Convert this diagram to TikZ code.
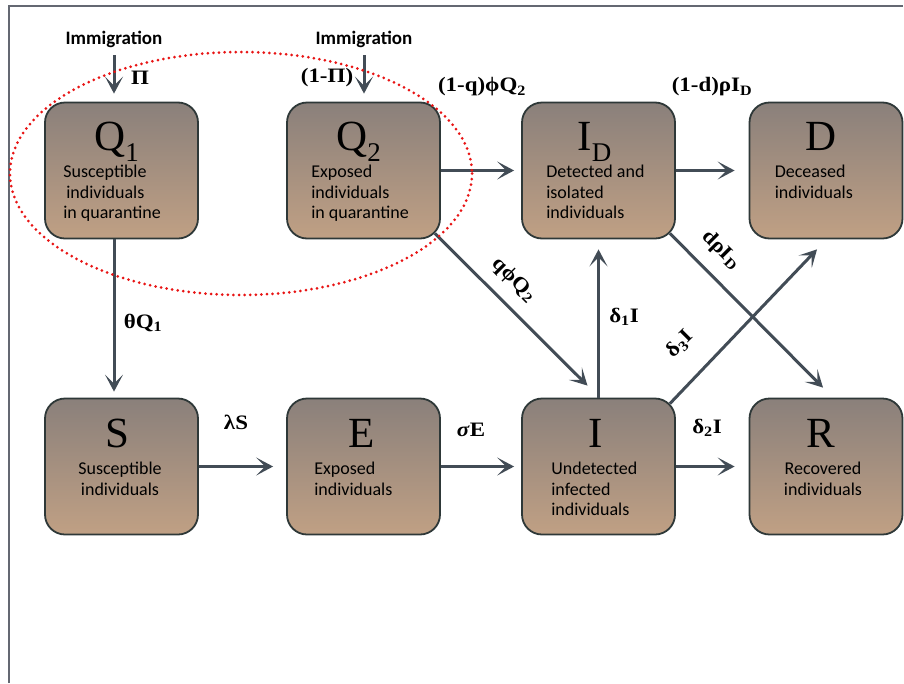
\documentclass[tikz,border=0pt]{standalone}
\usepackage{fontspec}
\setmainfont{Liberation Serif}
\newfontfamily\boxsans{Carlito}
\newfontfamily\ratefont[FakeStretch=1.12]{Liberation Serif}
\usetikzlibrary{arrows.meta,calc}
\definecolor{arr}{RGB}{66,76,86}
\definecolor{bdr}{RGB}{46,56,56}
\definecolor{btop}{RGB}{138,128,123}
\definecolor{bbot}{RGB}{192,160,132}
\definecolor{frm}{RGB}{100,104,114}
\definecolor{ellred}{RGB}{232,20,20}
\newcommand\bsub[1]{\raisebox{-11pt}{\fontsize{27}{27}\selectfont #1}}
\tikzset{
  comp/.style={rounded corners=20pt, minimum width=153pt, minimum height=136pt,
    draw=bdr, line width=1.8pt, top color=btop, bottom color=bbot, inner sep=0pt},
  bigl/.style={font=\fontsize{43}{43}\selectfont, anchor=base, inner sep=0pt},
  desc/.style={font=\boxsans\fontsize{18}{20.5}\selectfont, anchor=base west, inner sep=0pt},
  descc/.style={font=\boxsans\fontsize{18}{20.5}\selectfont, anchor=base, inner sep=0pt},
  flow/.style={draw=arr, line width=3pt, -{Stealth[length=17pt,width=18pt,inset=9pt]}},
  rate/.style={font=\ratefont\bfseries\fontsize{20.5}{20.5}\selectfont, inner sep=0pt},
  imm/.style={font=\boxsans\bfseries\fontsize{19}{19}\selectfont, inner sep=1pt},
}
\begin{document}
\begin{tikzpicture}[x=1pt,y=-1pt]
\useasboundingbox (0,0) rectangle (904,683);
\fill[white] (0,0) rectangle (904,683);
\draw[frm, line width=1.3pt] (9,683) -- (9,6) -- (903,6);

% compartments
\node[comp] (Q1) at (121.5,170.5) {};
\node[comp] (Q2) at (363.5,170.5) {};
\node[comp] (ID) at (598.5,170.5) {};
\node[comp] (D)  at (826,170.5) {};
\node[comp] (S)  at (121.5,466.5) {};
\node[comp] (E)  at (363.5,466.5) {};
\node[comp] (I)  at (598.5,466.5) {};
\node[comp] (R)  at (826,466.5) {};

% big letters
\node[bigl] (Q1l) at ($(Q1.north)+(-5,49)$) {Q\bsub{1}};
\node[bigl] (Q2l) at ($(Q2.north)+(-5,49)$) {Q\bsub{2}};
\node[bigl] (IDl) at ($(ID.north)+(-4,49)$) {I\bsub{D}};
\node[bigl] (Dl)  at ($(D.north)+(-5,49)$) {D};
\node[bigl] (Sl)  at ($(S.north)+(-4,50)$) {S};
\node[bigl] (El)  at ($(E.north)+(-2,50)$) {E};
\node[bigl] (Il)  at ($(I.north)+(-3,50)$) {I};
\node[bigl] (Rl)  at ($(R.north)+(-5,50)$) {R};

% descriptions
\node[desc] (Q1d) at ($(Q1.north west)+(19,76)$) {\begin{tabular}[t]{@{}l@{}}Susceptible\\\hspace*{3pt}individuals\\in quarantine\end{tabular}};
\node[desc] (Q2d) at ($(Q2.north west)+(25,76)$) {\begin{tabular}[t]{@{}l@{}}Exposed\\individuals\\in quarantine\end{tabular}};
\node[desc] (IDd) at ($(ID.north west)+(25,76)$) {\begin{tabular}[t]{@{}l@{}}Detected and\\isolated\\individuals\end{tabular}};
\node[desc] (Dd)  at ($(D.north west)+(26,76)$) {\begin{tabular}[t]{@{}l@{}}Deceased\\individuals\end{tabular}};
\node[descc] (Sd) at ($(S.north)+(-1.5,77)$) {\begin{tabular}[t]{@{}c@{}}Susceptible\\individuals\end{tabular}};
\node[desc] (Ed)  at ($(E.north west)+(28,77)$) {\begin{tabular}[t]{@{}l@{}}Exposed\\individuals\end{tabular}};
\node[desc] (Id)  at ($(I.north west)+(30,77)$) {\begin{tabular}[t]{@{}l@{}}Undetected\\infected\\individuals\end{tabular}};
\node[descc] (Rd) at ($(R.north)+(-3,77)$) {\begin{tabular}[t]{@{}c@{}}Recovered\\individuals\end{tabular}};

% immigration
\node[imm] (imm1) at (114,39) {Immigration};
\node[imm] (imm2) at (364,39) {Immigration};

% flows
\draw[flow, shorten <=7pt, shorten >=8pt] (imm1.south) -- (imm1.south |- Q1.north);
\draw[flow, shorten <=7pt, shorten >=8pt] (imm2.south) -- (imm2.south |- Q2.north);
\draw[flow, shorten >=6pt] (Q1.south -| imm1.south) -- (S.north -| imm1.south);
\draw[flow, shorten >=7pt] (Q2.east) -- (ID.west);
\draw[flow, shorten >=14pt] (ID.east) -- (D.west);
\draw[flow, shorten >=13pt] (S.east) -- (E.west);
\draw[flow, shorten >=7pt] (E.east) -- (I.west);
\draw[flow, shorten >=14pt] (I.east) -- (R.west);
\draw[flow, shorten >=10pt] (I.north) -- (ID.south);
\draw[flow] ($(Q2.south east)+(-6,-6)$) -- ($(I.north)+(-11,-12)$);
\draw[flow] ($(ID.south east)+(-6,-6)$) -- ($(R.north)+(-3,-10)$);
\draw[flow] ($(I.north east)+(-6,6)$) -- ($(D.south)+(-9,10)$);

% rates
\node[rate] (rPi)  at (140,78) {Π};
\node[rate] (rPi2) at (327,78) {(1-Π)};
\node[rate] (rq)   at (482,87) {(1-q)ϕQ\textsubscript{2}};
\node[rate] (rd)   at (712,87) {(1-d)ρI\textsubscript{D}};
\node[rate] (rth)  at (143,323) {θQ\textsubscript{1}};
\node[rate] (rl)   at (236,422) {λS};
\node[rate] (rs)   at (471,430) {\textit{σ}E};
\node[rate] (rd2)  at (707,428) {δ\textsubscript{2}I};
\node[rate] (rd1)  at (624,317) {δ\textsubscript{1}I};
\node[rate, rotate=-45] (rqp) at (514,280) {qϕQ\textsubscript{2}};
\node[rate, rotate=45]  (rd3) at (680,344) {δ\textsubscript{3}I};
\node[rate, rotate=-45] (rdr) at (721,250) {dρI\textsubscript{D}};

% quarantine ellipse
\draw[ellred, line width=3pt, line cap=round, dash pattern=on 0pt off 5.6pt]
  (241,173.5) ellipse [x radius=231, y radius=121.5];
\end{tikzpicture}
\end{document}
